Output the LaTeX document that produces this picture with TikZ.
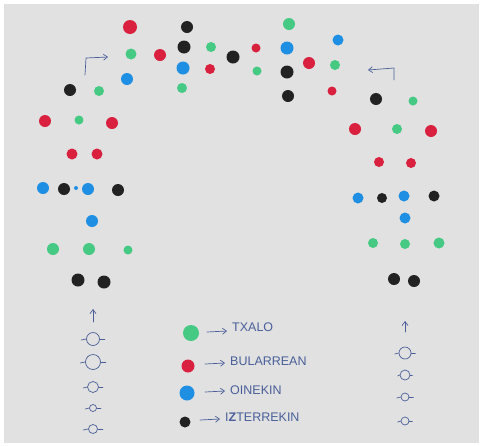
\documentclass[tikz,border=0pt]{standalone}
\usepackage{fontspec}
\setmainfont{Liberation Sans}
\usetikzlibrary{arrows.meta}
\definecolor{paper}{HTML}{E0E1E0}
\definecolor{pen}{HTML}{4A5F9A}
\definecolor{cr}{HTML}{D9203F}
\definecolor{cg}{HTML}{45C983}
\definecolor{cb}{HTML}{1E8FE2}
\definecolor{ck}{HTML}{222222}
\tikzset{
  dot/.style={circle,inner sep=0pt,minimum size=#1},
  rd/.style={dot=#1,fill=cr},
  gr/.style={dot=#1,fill=cg},
  bl/.style={dot=#1,fill=cb},
  bk/.style={dot=#1,fill=ck},
  penline/.style={draw=pen,line width=0.7pt,line cap=round,line join=round},
  parrow/.style={penline,-{Straight Barb[length=4pt,width=6pt]}},
  ring/.style={circle,draw=pen,line width=0.7pt,inner sep=0pt,minimum size=#1},
  lbl/.style={text=pen,anchor=west,inner sep=0pt,font=\fontsize{12.5}{13}\selectfont}
}
\begin{document}
\begin{tikzpicture}[x=1pt,y=-1pt]
\useasboundingbox (0,0) rectangle (481,445);
\fill[white] (0,0) rectangle (481,445);
\fill[paper] (4,4) rectangle (479,443);
% ---- left side / top arc
\node[rd=14] (a1) at (130,27) {};
\node[bk=12] (a2) at (187,27) {};
\node[bk=13] (a3) at (184,47) {};
\node[gr=10] (a4) at (211,47) {};
\node[bk=13] (a5) at (233,57) {};
\node[gr=11] (a6) at (131,54) {};
\node[rd=12] (a7) at (160,55) {};
\node[bl=13] (a8) at (183,68) {};
\node[rd=10] (a9) at (210,69) {};
\node[bl=12] (a10) at (127,79) {};
\node[gr=10] (a11) at (182,88) {};
\node[bk=12] (a12) at (70,90) {};
\node[gr=10] (a13) at (99,91) {};
\node[rd=12] (a14) at (45,121) {};
\node[gr=9] (a15) at (79,120) {};
\node[rd=12] (a16) at (112,123) {};
\node[rd=11] (a17) at (72,154) {};
\node[rd=11] (a18) at (97,154) {};
\node[bl=12] (a19) at (43,188) {};
\node[bk=12] (a20) at (64,189) {};
\node[bl=4] (a21) at (76,188) {};
\node[bl=12] (a22) at (88,189) {};
\node[bk=12] (a23) at (118,190) {};
\node[bl=12] (a24) at (92,221) {};
\node[gr=12] (a25) at (53,249) {};
\node[gr=12] (a26) at (89,249) {};
\node[gr=9] (a27) at (128,250) {};
\node[bk=13] (a28) at (78,280) {};
\node[bk=13] (a29) at (104,282) {};
% ---- right side / top arc
\node[gr=12] (b1) at (289,24) {};
\node[rd=9] (b2) at (256,48) {};
\node[bl=13] (b3) at (287,48) {};
\node[bl=11] (b4) at (338,40) {};
\node[gr=9] (b5) at (257,71) {};
\node[bk=13] (b6) at (287,72) {};
\node[rd=12] (b7) at (309,63) {};
\node[gr=10] (b8) at (335,65) {};
\node[bk=12] (b9) at (288,96) {};
\node[rd=9] (b10) at (332,91) {};
\node[bk=12] (b11) at (376,99) {};
\node[gr=9] (b12) at (413,101) {};
\node[rd=12] (b13) at (355,129) {};
\node[gr=10] (b14) at (397,129) {};
\node[rd=12] (b15) at (431,131) {};
\node[rd=10] (b16) at (379,162) {};
\node[rd=10] (b17) at (411,163) {};
\node[bl=11] (b18) at (358,198) {};
\node[bk=10] (b19) at (382,198) {};
\node[bl=11] (b20) at (404,196) {};
\node[bk=11] (b21) at (434,196) {};
\node[bl=11] (b22) at (405,218) {};
\node[gr=10] (b23) at (373,243) {};
\node[gr=10] (b24) at (405,244) {};
\node[gr=11] (b25) at (439,243) {};
\node[bk=12] (b26) at (394,279) {};
\node[bk=12] (b27) at (414,281) {};
% ---- direction arrows
\coordinate (p1) at (85,75);
\coordinate (p2) at (86,58);
\coordinate (p3) at (108,57);
\draw[parrow] (p1) -- (p2) -- (p3);
\coordinate (q1) at (394,80);
\coordinate (q2) at (394,68);
\coordinate (q3) at (368,70);
\draw[parrow] (q1) -- (q2) -- (q3);
% ---- left column of rings
\coordinate (l0a) at (93,322);
\coordinate (l0b) at (93,309);
\draw[parrow] (l0a) -- (l0b);
\node[ring=13] (l1) at (93,339) {};
\node[ring=15] (l2) at (93,362) {};
\node[ring=11] (l3) at (93,387) {};
\node[ring=7] (l4) at (93,408) {};
\node[ring=9] (l5) at (93,429) {};
\foreach \n/\w in {l1/5,l2/5,l3/4,l4/4,l5/5}{
  \draw[penline] (\n.west) -- ++(-\w,1);
  \draw[penline] (\n.east) -- ++(\w,0);
}
% ---- right column of rings
\coordinate (r0a) at (405,332);
\coordinate (r0b) at (405,321);
\draw[parrow] (r0a) -- (r0b);
\node[ring=12] (r1) at (405,353) {};
\node[ring=10] (r2) at (405,375) {};
\node[ring=8] (r3) at (405,397) {};
\node[ring=8] (r4) at (405,421) {};
\foreach \n/\w in {r1/4,r2/2,r3/4,r4/3}{
  \draw[penline] (\n.west) -- ++(-\w,1);
  \draw[penline] (\n.east) -- ++(\w,0);
}
% ---- legend
\node[gr=16] (g1) at (191,333) {};
\node[rd=13] (g2) at (188,366) {};
\node[bl=15] (g3) at (187,393) {};
\node[bk=11] (g4) at (185,422) {};
\node[lbl] (t1) at (232,327) {TXALO};
\node[lbl] (t2) at (230,361) {BULARREAN};
\node[lbl] (t3) at (230,390) {OINEKIN};
\node[lbl] (t4) at (225,417) {I\textbf{Z}TERREKIN};
\coordinate (s1) at (207,332); \coordinate (e1) at (227,331);
\coordinate (s2) at (205,364); \coordinate (e2) at (225,363);
\coordinate (s3) at (205,392); \coordinate (e3) at (225,391);
\coordinate (s4) at (200,420); \coordinate (e4) at (220,419);
\draw[parrow] (s1) -- (e1);
\draw[parrow] (s2) -- (e2);
\draw[parrow] (s3) -- (e3);
\draw[parrow] (s4) -- (e4);
\end{tikzpicture}
\end{document}
